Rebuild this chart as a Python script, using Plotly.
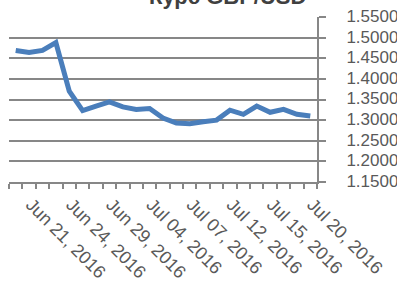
import plotly.graph_objects as go

dates = ["Jun 20, 2016", "Jun 21, 2016", "Jun 22, 2016", "Jun 23, 2016", "Jun 24, 2016",
         "Jun 27, 2016", "Jun 28, 2016", "Jun 29, 2016", "Jun 30, 2016", "Jul 01, 2016",
         "Jul 04, 2016", "Jul 05, 2016", "Jul 06, 2016", "Jul 07, 2016", "Jul 08, 2016",
         "Jul 11, 2016", "Jul 12, 2016", "Jul 13, 2016", "Jul 14, 2016", "Jul 15, 2016",
         "Jul 18, 2016", "Jul 19, 2016", "Jul 20, 2016"]
rates = [1.469, 1.464, 1.469, 1.488, 1.370,
         1.323, 1.334, 1.344, 1.332, 1.326,
         1.328, 1.305, 1.293, 1.291, 1.296,
         1.300, 1.324, 1.314, 1.334, 1.319,
         1.326, 1.314, 1.310]
label_dates = ["Jun 21, 2016", "Jun 24, 2016", "Jun 29, 2016", "Jul 04, 2016",
               "Jul 07, 2016", "Jul 12, 2016", "Jul 15, 2016", "Jul 20, 2016"]
title = "Курс GBP/USD"

idx = list(range(len(dates)))
label_pos = [dates.index(d) for d in label_dates]

GRAY = "#878787"
TXT = "#595959"

fig = go.Figure()
fig.add_trace(go.Scatter(x=idx, y=rates, mode="lines",
                         line=dict(color="#4A7EBB", width=5), hoverinfo="skip"))

fig.update_layout(
    width=397, height=282,
    margin=dict(l=9, r=80, t=17, b=100, autoexpand=False),
    paper_bgcolor="white", plot_bgcolor="white",
    showlegend=False,
    font=dict(family="Liberation Sans", color=TXT, size=18),
    xaxis=dict(range=[-0.5, len(dates) - 0.5], showgrid=False, zeroline=False,
               automargin=False,
               showline=True, linecolor=GRAY, linewidth=2,
               tickmode="array", tickvals=label_pos, ticktext=label_dates,
               ticks="", tickangle=45, tickfont=dict(size=18, color=TXT),
               ticklabelstandoff=3, ticklabelshift=2,
               minor=dict(tickmode="array", tickvals=[i - 0.5 for i in range(len(dates) + 1)],
                          ticks="outside", ticklen=5, tickwidth=2, tickcolor=GRAY, showgrid=False)),
    yaxis=dict(range=[1.15, 1.55], side="right", tick0=1.15, dtick=0.05,
               automargin=False,
               tickformat=".4f", showgrid=True, gridcolor=GRAY, gridwidth=2,
               zeroline=False, showline=True, linecolor=GRAY, linewidth=2,
               ticks="outside", ticklen=7, tickwidth=2, tickcolor=GRAY,
               ticklabelstandoff=17, ticklabelshift=-1, tickfont=dict(size=17, color=TXT)),
    annotations=[dict(text="<b>" + title + "</b>", xref="paper", yref="paper",
                      x=0.708, y=1.039, xanchor="center", yanchor="bottom",
                      showarrow=False, font=dict(size=22, color="#404040"))],
)

fig.write_html("out.html", config={"displayModeBar": False},
               post_script="document.body.style.margin='0px';")
